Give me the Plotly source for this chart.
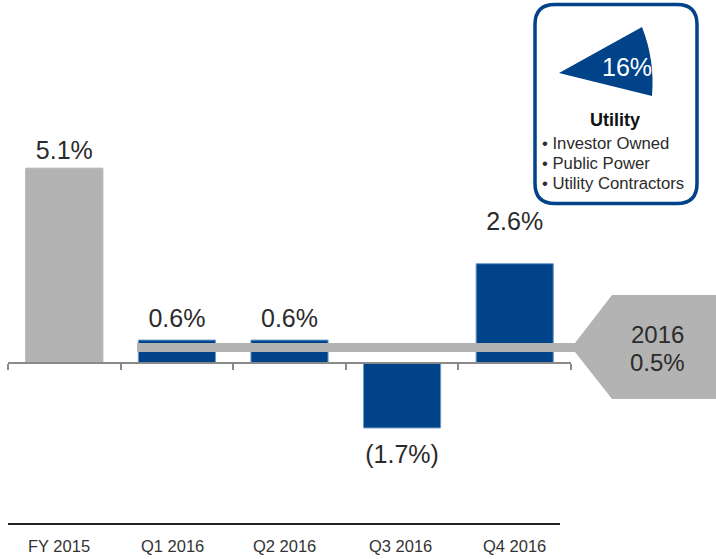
import plotly.graph_objects as go

categories = ["FY 2015", "Q1 2016", "Q2 2016", "Q3 2016", "Q4 2016"]
values = [5.1, 0.6, 0.6, -1.7, 2.6]
value_labels = ["5.1%", "0.6%", "0.6%", "(1.7%)", "2.6%"]
bar_colors = ["#b3b3b3", "#004388", "#004388", "#004388", "#004388"]
edge_colors = ["#b3b3b3", "#6d9bcb", "#6d9bcb", "#6d9bcb", "#6d9bcb"]
callout_lines = ["2016", "0.5%"]
share_label = "16%"
sector_title = "Utility"
sector_items = ["Investor Owned", "Public Power", "Utility Contractors"]

W, H = 716, 559
ZERO_PX, PX_PER_UNIT = 363.0, 38.2
BLUE, GREY, INK = "#004388", "#b3b3b3", "#2b2b2b"
FONT = "Liberation Sans"


def px(x):
    return x / W


def py(y):
    return 1 - y / H


def to_val(y):
    return (ZERO_PX - y) / PX_PER_UNIT


def path(points):
    return "M " + " L ".join(f"{px(x):.5f},{py(y):.5f}" for x, y in points) + " Z"


label_centres = [153, 321, 321, 457, 224]
category_label_centres = [59, 172, 284, 400, 514]

fig = go.Figure()
fig.add_trace(go.Bar(
    x=categories, y=values, width=0.685,
    marker=dict(color=bar_colors, line=dict(color=edge_colors, width=1)),
    hoverinfo="skip",
))
fig.add_trace(go.Scatter(
    x=categories, y=[to_val(p) for p in label_centres], mode="text",
    text=value_labels, textposition="middle center",
    textfont=dict(family=FONT, size=25, color=INK), hoverinfo="skip",
))

# connector band and pentagon callout
callout = path([(137, 343), (575, 343), (612, 295), (716, 295), (716, 399),
                (612, 399), (575, 352), (137, 352)])


def rounded(x0, y0, x1, y1, r):
    c = lambda x, y: f"{px(x):.5f},{py(y):.5f}"
    return (f"M {c(x0 + r, y0)} L {c(x1 - r, y0)} Q {c(x1, y0)} {c(x1, y0 + r)} "
            f"L {c(x1, y1 - r)} Q {c(x1, y1)} {c(x1 - r, y1)} "
            f"L {c(x0 + r, y1)} Q {c(x0, y1)} {c(x0, y1 - r)} "
            f"L {c(x0, y0 + r)} Q {c(x0, y0)} {c(x0 + r, y0)} Z")


c = lambda x, y: f"{px(x):.5f},{py(y):.5f}"
wedge = f"M {c(559, 73)} L {c(642, 27)} Q {c(655, 60)} {c(652, 96)} Z"

shapes = [
    dict(type="path", path=callout, xref="paper", yref="paper",
         fillcolor=GREY, line=dict(width=0), layer="above"),
    dict(type="path", path=rounded(535, 4.5, 697, 203.5, 20), xref="paper", yref="paper",
         fillcolor="white", line=dict(color=BLUE, width=3.5), layer="above"),
    dict(type="path", path=wedge, xref="paper", yref="paper",
         fillcolor=BLUE, line=dict(width=0), layer="above"),
    dict(type="line", x0=px(8), x1=px(560), y0=py(524), y1=py(524), xref="paper", yref="paper",
         line=dict(color="#222222", width=2)),
]

annotations = []


def note(text, x, y, size, color=INK, anchor="center", bold=False):
    annotations.append(dict(
        text=f"<b>{text}</b>" if bold else text, x=px(x), y=py(y), xref="paper", yref="paper",
        xanchor=anchor, yanchor="middle", showarrow=False,
        font=dict(family=FONT, size=size, color=color),
    ))


note(callout_lines[0], 657, 334, 24)
note(callout_lines[1], 657, 362, 24)
note(share_label, 627, 67, 25, color="white")
note(sector_title, 615, 120, 18, color="#111111", bold=True)
for item, y in zip(sector_items, [143, 163, 183]):
    note("• " + item, 540, y, 16.7, anchor="left")
for cat, x in zip(categories, category_label_centres):
    note(cat, x, 546, 16.5, color="#333333")

fig.update_layout(
    width=W, height=H, margin=dict(l=0, r=0, t=0, b=0, pad=0),
    paper_bgcolor="white", plot_bgcolor="white", showlegend=False,
    shapes=shapes, annotations=annotations,
    xaxis=dict(type="category", categoryorder="array", categoryarray=categories,
               range=[-0.5, 4.5], fixedrange=True, showgrid=False,
               domain=[px(8), px(571)], anchor="free",
               position=py(ZERO_PX), side="bottom",
               showline=True, linecolor="#8a8a8a", linewidth=1.5,
               ticks="outside", tickson="boundaries", ticklen=6, tickwidth=1.5,
               tickcolor="#8a8a8a", showticklabels=False),
    yaxis=dict(domain=[0, 1], range=[to_val(H), to_val(0)], visible=False, fixedrange=True),
)

fig.write_html("out.html", config=dict(displayModeBar=False),
               post_script="document.body.style.margin='0';document.body.style.overflow='hidden';")
